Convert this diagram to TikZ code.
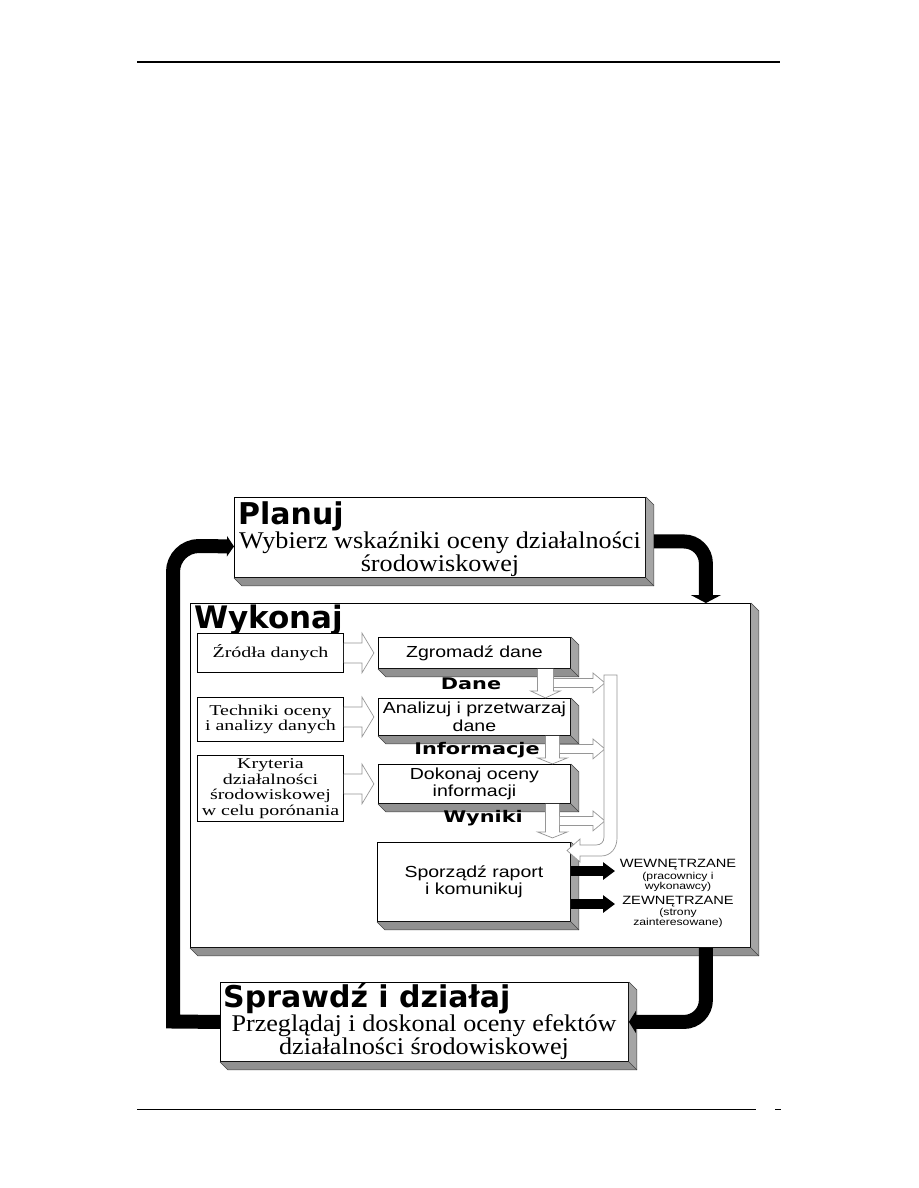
\documentclass[tikz,border=0pt]{standalone}
\usepackage{fontspec}
\setmainfont{Liberation Serif}
\newfontfamily\serifB{Liberation Serif}[FakeStretch=1.09]
\newfontfamily\serifS{Liberation Serif}[FakeStretch=1.33]
\newfontfamily\sansS{Liberation Sans}[FakeStretch=1.22]
\newfontfamily\heavy{DejaVu Sans}
\newfontfamily\heavyS{DejaVu Sans}[FakeStretch=1.3]
\usetikzlibrary{arrows.meta}
\newcommand\setfs[2]{\fontsize{#1}{#2}\selectfont}
\definecolor{shaderight}{RGB}{165,165,165}
\definecolor{shadebottom}{RGB}{145,145,145}
\definecolor{hollowline}{RGB}{150,150,150}
\newcommand\boxshade[2][8]{%
  \fill[shaderight] (#2.north east) -- ([shift={(#1,#1)}]#2.north east) -- ([shift={(#1,#1)}]#2.south east) -- (#2.south east) -- cycle;
  \fill[shadebottom] (#2.south west) -- (#2.south east) -- ([shift={(#1,#1)}]#2.south east) -- ([shift={(#1,#1)}]#2.south west) -- cycle;
  \draw[shadeline] (#2.north east) -- ([shift={(#1,#1)}]#2.north east) -- ([shift={(#1,#1)}]#2.south east) -- ([shift={(#1,#1)}]#2.south west) -- (#2.south west);
  \draw[shadeline] (#2.south east) -- ([shift={(#1,#1)}]#2.south east);
}
\begin{document}
\begin{tikzpicture}[x=1pt,y=-1pt,
  plainbox/.style={draw=black, line width=0.9pt, fill=white, inner sep=0pt, anchor=north west},
  shadeline/.style={draw=black!75, line width=0.5pt},
  hollow/.style={draw=hollowline, line width=0.7pt, fill=white},
  bigarrow/.style={draw=black, line width=14pt},
  smallarrow/.style={draw=black, line width=10pt, -{Triangle[width=17pt,length=12pt]}},
  boxtitle/.style={anchor=base west, inner sep=0pt, font=\heavy\bfseries\setfs{30}{30}},
  bigtext/.style={anchor=base, inner sep=0pt, font=\serifB\setfs{24}{24}},
  serifsmall/.style={font=\serifS\setfs{15}{15.5}, align=center},
  sanssmall/.style={font=\sansS\setfs{16}{17.5}, align=center},
  flowlabel/.style={inner sep=0pt, font=\heavyS\bfseries\setfs{16}{16}},
  outlabel/.style={inner sep=0pt, font=\sansS\setfs{12}{12}},
  outsub/.style={inner sep=0pt, align=center, font=\sansS\setfs{10}{10.5}},
]
\useasboundingbox (0,0) rectangle (918,1188);
\fill[white] (0,0) rectangle (918,1188);

% header / footer rules
\draw[line width=1.3pt] (137,62) -- (780,62);
\draw[line width=1pt] (137,1109) -- (756,1109);
\draw[line width=1pt] (775,1109) -- (781,1109);

% Planuj
\node[plainbox, minimum width=411pt, minimum height=80pt] (plan) at (234,497) {};
\boxshade{plan}
\node[boxtitle] (plantitle) at (238,524) {Planuj};
\node[bigtext] (plantext1) at (440,548) {Wybierz wskaźniki oceny działalności};
\node[bigtext] (plantext2) at (440,571) {środowiskowej};

% Wykonaj
\node[plainbox, minimum width=560pt, minimum height=344pt] (wyk) at (190,603) {};
\boxshade{wyk}
\node[boxtitle, font=\heavy\bfseries\setfs{31}{31}] (wyktitle) at (194,628) {Wykonaj};

% left input boxes
\node[plainbox, serifsmall, minimum width=146pt, minimum height=39pt] (src) at (197,633) {Źródła danych};
\node[plainbox, serifsmall, minimum width=146pt, minimum height=44pt] (tech) at (197,697) {Techniki oceny\\i analizy danych};
\node[plainbox, serifsmall, minimum width=146pt, minimum height=66pt] (krit) at (197,755) {Kryteria\\działalności\\środowiskowej\\w celu porónania};

% middle process boxes
\node[plainbox, sanssmall, minimum width=192pt, minimum height=31pt] (m1) at (378,637) {Zgromadź dane};
\boxshade{m1}
\node[plainbox, sanssmall, minimum width=192pt, minimum height=37pt] (m2) at (378,698) {Analizuj i przetwarzaj\\dane};
\boxshade{m2}
\node[plainbox, sanssmall, minimum width=192pt, minimum height=39pt] (m3) at (378,764) {Dokonaj oceny\\informacji};
\boxshade{m3}
\node[plainbox, sanssmall, minimum width=193pt, minimum height=79pt] (m4) at (377,842) {Sporządź raport\\i komunikuj};
\boxshade{m4}

% hollow arrows: inputs -> process
\draw[hollow] (src.east) ++(0,-10) -- ++(18,0) -- ++(0,-10) -- ++(12,20) -- ++(-12,20) -- ++(0,-10) -- ++(-18,0);
\draw[hollow] (tech.east |- m2.west) ++(0,-10) -- ++(18,0) -- ++(0,-10) -- ++(12,20) -- ++(-12,20) -- ++(0,-10) -- ++(-18,0);
\draw[hollow] (krit.east |- m3.west) ++(0,-10) -- ++(18,0) -- ++(0,-10) -- ++(12,20) -- ++(-12,20) -- ++(0,-10) -- ++(-18,0);

% hollow down arrows between process boxes
\draw[hollow] ([shift={(71,0)}]m1.south) ++(-8,0) -- ++(0,22) -- ++(-7,0) -- ++(15,7) -- ++(15,-7) -- ++(-7,0) -- ++(0,-22);
\draw[hollow] ([shift={(78,0)}]m2.south) ++(-7,0) -- ++(0,22) -- ++(-8,0) -- ++(15,6) -- ++(15,-6) -- ++(-8,0) -- ++(0,-22);
\draw[hollow] ([shift={(78,0)}]m3.south) ++(-7,0) -- ++(0,28) -- ++(-8,0) -- ++(15,6) -- ++(15,-6) -- ++(-8,0) -- ++(0,-28);

% hollow right arrows to the collecting bar
\draw[hollow] ([shift={(-17,14)}]m1.south east) ++(0,-4.5) -- ++(39,0) -- ++(0,-5.5) -- ++(12,10) -- ++(-12,10) -- ++(0,-5.5) -- ++(-39,0);
\draw[hollow] ([shift={(-11,13)}]m2.south east) ++(0,-4.5) -- ++(33,0) -- ++(0,-5.5) -- ++(12,10) -- ++(-12,10) -- ++(0,-5.5) -- ++(-33,0);
\draw[hollow] ([shift={(-11,17)}]m3.south east) ++(0,-4.5) -- ++(33,0) -- ++(0,-5.5) -- ++(12,10) -- ++(-12,10) -- ++(0,-5.5) -- ++(-33,0);

% collecting bar
\coordinate (bar) at (604,675);
\draw[hollow] (bar) -- (617,675) -- (617,838) .. controls (617,848) and (611,856) .. (601,856) -- (580,856) -- (580,862) -- (567,850.5) -- (580,839) -- (580,845) -- (596,845) .. controls (601,845) and (604,842) .. (604,837) -- cycle;

% labels between boxes
\node[flowlabel] (dane) at (471,684) {Dane};
\node[flowlabel] (info) at (477,750) {Informacje};
\node[flowlabel] (wyn) at (483,818) {Wyniki};

% report outputs
\coordinate (wewtip) at (615,871);
\coordinate (zewtip) at (615,904);
\draw[smallarrow] (m4.east |- wewtip) -- (wewtip);
\draw[smallarrow] (m4.east |- zewtip) -- (zewtip);
\node[outlabel] (wewn) at (678,865) {WEWNĘTRZANE};
\node[outsub] (wewnsub) at (678,882) {(pracownicy i\\wykonawcy)};
\node[outlabel] (zewn) at (678,902) {ZEWNĘTRZANE};
\node[outsub] (zewnsub) at (678,918) {(strony\\zainteresowane)};

% Sprawdz i dzialaj
\node[plainbox, minimum width=408pt, minimum height=79pt] (spr) at (220,982) {};
\boxshade{spr}
\node[boxtitle] (sprtitle) at (223,1007) {Sprawdź i działaj};
\node[bigtext] (sprtext1) at (424,1031) {Przeglądaj i doskonal oceny efektów};
\node[bigtext] (sprtext2) at (424,1054) {działalności środowiskowej};

% big cycle arrows
\draw[bigarrow, -{Triangle[width=30pt,length=8pt]}, rounded corners=22pt] ([shift={(8,4)}]plan.east) -| ([shift={(-45,0)}]wyk.north east);
\draw[bigarrow, -{Triangle[width=22pt,length=7pt]}, rounded corners=22pt] ([shift={(-45,0)}]wyk.south east) |- (spr.east);
\draw[bigarrow, -{Triangle[width=20pt,length=7pt]}] (spr.west) -- (173,1021.5) -- (173,572) .. controls (173,557.6) and (184.6,546) .. (199,546) -- ([shift={(0,9)}]plan.west);
\end{tikzpicture}
\end{document}
